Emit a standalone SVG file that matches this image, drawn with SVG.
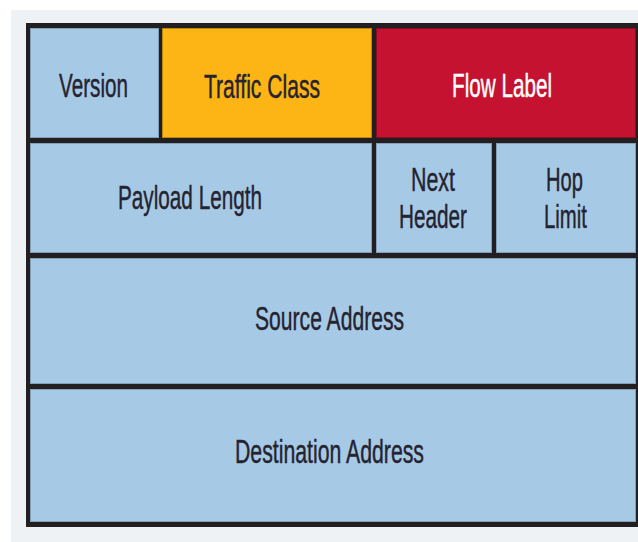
<svg xmlns="http://www.w3.org/2000/svg" width="638" height="542" viewBox="0 0 638 542">
  <style>
    .blue { fill: #a6cae6; stroke: #7f9fba; stroke-width: 1; }
    .orange { fill: #fdb515; stroke: #b8860b; stroke-width: 1; }
    .red { fill: #c41230; stroke: #8a0c22; stroke-width: 1; }
    .lbl { font-family: "Liberation Sans", Arial, sans-serif; font-size: 33.5px; fill: #25232f; stroke: #25232f; stroke-width: 0.45; }
    .lbl.white { fill: #ffffff; stroke: #ffffff; }
  </style>
  <rect x="0" y="0" width="638" height="542" fill="#ffffff"/>
  <rect x="11" y="10" width="627" height="532" fill="#eef2f5"/>
  <g id="frame">
    <rect x="26" y="23" width="612" height="504" fill="#231f20"/>
  </g>
  <g id="version">
    <rect class="blue" x="30.5" y="28.5" width="128" height="109"/>
    <text class="lbl" x="59" y="97" textLength="69" lengthAdjust="spacingAndGlyphs">Version</text>
  </g>
  <g id="traffic-class">
    <rect class="orange" x="162.5" y="28.5" width="209" height="109"/>
    <text class="lbl" x="204" y="98" textLength="116" lengthAdjust="spacingAndGlyphs">Traffic Class</text>
  </g>
  <g id="flow-label">
    <rect class="red" x="376.5" y="28.5" width="259" height="109"/>
    <text class="lbl white" x="452" y="97" textLength="100" lengthAdjust="spacingAndGlyphs">Flow Label</text>
  </g>
  <g id="payload-length">
    <rect class="blue" x="30.5" y="143.5" width="341" height="109"/>
    <text class="lbl" x="118" y="209" textLength="144" lengthAdjust="spacingAndGlyphs">Payload Length</text>
  </g>
  <g id="next-header">
    <rect class="blue" x="376.5" y="143.5" width="115" height="109"/>
    <text class="lbl" x="411" y="191" textLength="44" lengthAdjust="spacingAndGlyphs">Next</text>
    <text class="lbl" x="399" y="228" textLength="68" lengthAdjust="spacingAndGlyphs">Header</text>
  </g>
  <g id="hop-limit">
    <rect class="blue" x="496.5" y="143.5" width="139" height="109"/>
    <text class="lbl" x="546" y="191" textLength="37" lengthAdjust="spacingAndGlyphs">Hop</text>
    <text class="lbl" x="544" y="228" textLength="43" lengthAdjust="spacingAndGlyphs">Limit</text>
  </g>
  <g id="source-address">
    <rect class="blue" x="30.5" y="258.5" width="605" height="125"/>
    <text class="lbl" x="255" y="330" textLength="149" lengthAdjust="spacingAndGlyphs">Source Address</text>
  </g>
  <g id="destination-address">
    <rect class="blue" x="30.5" y="389.5" width="605" height="132"/>
    <text class="lbl" x="235" y="463" textLength="189" lengthAdjust="spacingAndGlyphs">Destination Address</text>
  </g>
  <g id="connectors"/>
</svg>
